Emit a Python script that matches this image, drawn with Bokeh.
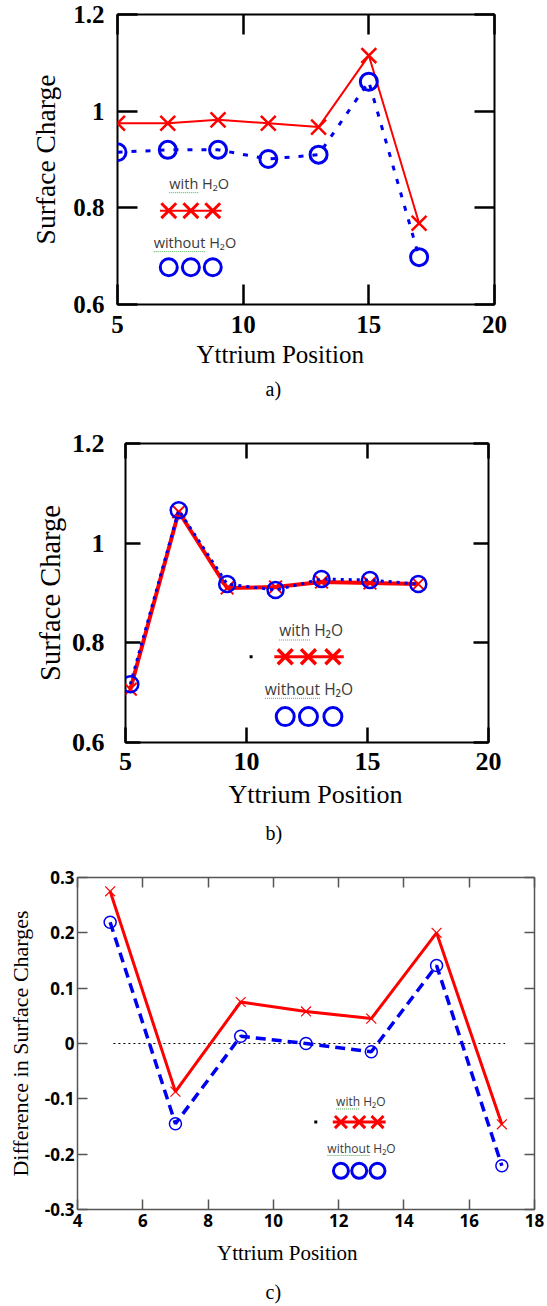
from bokeh.plotting import figure
from bokeh.models import Range1d, FixedTicker, LinearAxis, Title
from bokeh.embed import file_html
from bokeh.resources import INLINE
from bokeh.core.properties import value

# ---------------- data ----------------
# panel a)
positions_a = [5, 7, 9, 11, 13, 15, 17]
with_h2o_a = [0.975, 0.975, 0.982, 0.975, 0.967, 1.115, 0.768]
without_h2o_a = [0.915, 0.920, 0.920, 0.901, 0.910, 1.061, 0.698]

# panel b)
positions_b = [5.2, 7.2, 9.2, 11.2, 13.1, 15.1, 17.1]
with_h2o_b = [0.707, 1.063, 0.910, 0.912, 0.922, 0.920, 0.918]
without_h2o_b = [0.717, 1.066, 0.918, 0.906, 0.928, 0.926, 0.918]

# panel c)
positions_c = [5, 7, 9, 11, 13, 15, 17]
diff_with_h2o = [0.275, -0.087, 0.075, 0.058, 0.045, 0.200, -0.146]
diff_without_h2o = [0.219, -0.145, 0.013, 0.000, -0.015, 0.141, -0.221]
zero_line_x = [5.1, 17.1]
zero_line_y = [0.0, 0.0]

# ticks
x_ticks_ab = [5, 10, 15, 20]
x_tick_labels_ab = ["5", "10", "15", "20"]
y_ticks_ab = [0.6, 0.8, 1.0, 1.2]
y_tick_labels_ab = ["0.6", "0.8", "1", "1.2"]
x_ticks_c = [4, 6, 8, 10, 12, 14, 16, 18]
x_tick_labels_c = ["4", "6", "8", "10", "12", "14", "16", "18"]
y_ticks_c = [-0.3, -0.2, -0.1, 0.0, 0.1, 0.2, 0.3]
y_tick_labels_c = ["-0.3", "-0.2", "-0.1", "0", "0.1", "0.2", "0.3"]

legend_with = "with H\u2082O"
legend_without = "without H\u2082O"
x_title = "Yttrium Position"
y_title_ab = "Surface Charge"
y_title_c = "Difference in Surface Charges"
captions = ["a)", "b)", "c)"]

RED = "#ff0000"
BLUE = "#0000f0"
SERIF = "Liberation Serif"
TITLE_SERIF = "Times New Roman"
SANS = "Open Sans"
W = 547


def make_fig(h, xr, yr, borders, xt, xl, yt, yl, tick_font, tick_size, tick_len,
             frame_color, frame_w, tick_w, ytitle, ytitle_size, xlab_standoff,
             ylab_standoff, ytitle_standoff):
    p = figure(width=W, height=h, x_range=Range1d(*xr), y_range=Range1d(*yr),
               output_backend="svg", toolbar_location=None,
               min_border_left=borders[0], min_border_right=borders[1],
               min_border_top=borders[2], min_border_bottom=borders[3],
               x_axis_type=None, y_axis_type=None)
    p.grid.visible = False
    p.outline_line_color = frame_color
    p.outline_line_width = frame_w
    p.outline_line_alpha = 1
    p.background_fill_color = "white"
    p.border_fill_color = "white"

    def axis(ticks, labels, show, standoff=0, title=None):
        a = LinearAxis(ticker=FixedTicker(ticks=ticks),
                       axis_line_color=None,
                       major_tick_in=tick_len, major_tick_out=0,
                       major_tick_line_color=frame_color, major_tick_line_width=tick_w,
                       minor_tick_line_color=None)
        if show:
            a.major_label_overrides = dict(zip(ticks, labels))
            a.major_label_text_font = tick_font[0]
            a.major_label_text_font_style = tick_font[1]
            a.major_label_text_font_size = tick_size
            a.major_label_text_color = "black"
            a.major_label_standoff = standoff
            if title:
                a.axis_label = title
                a.axis_label_text_font = SERIF
                a.axis_label_text_font_style = "normal"
                a.axis_label_text_font_size = ytitle_size
                a.axis_label_text_color = "black"
                a.axis_label_standoff = ytitle_standoff
        else:
            a.major_label_overrides = {t: "" for t in ticks}
            a.major_label_standoff = 0
        return a

    p.add_layout(axis(xt, xl, True, xlab_standoff), "below")
    p.add_layout(axis(yt, yl, True, ylab_standoff, ytitle), "left")
    p.add_layout(axis(xt, xl, False), "above")
    p.add_layout(axis(yt, yl, False), "right")
    return p


def below_text(p, txt, offset, standoff, size):
    t = Title(text=txt, align="left", offset=offset, standoff=standoff,
              vertical_align="top", text_font_size=size,
              text_font_style="normal", text_color="black")
    t.text_font = TITLE_SERIF
    p.add_layout(t, "below")


def add_legend(p, cfg, fpx, xsize, xlw, osize, olw, line_w, px_x, px_y, dot=None):
    # px_x / px_y: data units per screen pixel (for the spell-check underline)
    for txt, tx, ty, word_em in ((legend_with, cfg["tx1"], cfg["ty1"], 2.0),
                                 (legend_without, cfg["tx2"], cfg["ty2"], 3.55)):
        p.text(x=[tx], y=[ty], text=[txt], text_font=value(SANS),
               text_font_size=f"{fpx}px", text_color="#3a3a3a", text_align="center",
               text_baseline="middle")
        total_em = word_em + 2.13
        x0 = tx - total_em * fpx / 2 * px_x
        p.line(x=[x0, x0 + word_em * fpx * px_x], y=[ty - 0.62 * fpx * px_y] * 2,
               line_color="#4caf50", line_width=1, line_dash="1 1")
    mx = cfg["mx"]
    p.line(x=[mx[0] - cfg["ext"], mx[2] + cfg["ext"]], y=[cfg["my1"]] * 2,
           line_color=RED, line_width=line_w)
    p.scatter(x=mx, y=[cfg["my1"]] * 3, marker="x", size=xsize,
              line_color=RED, line_width=xlw)
    p.scatter(x=mx, y=[cfg["my2"]] * 3, marker="circle", size=osize,
              line_color=BLUE, line_width=olw, fill_color=None)
    if dot is not None:
        p.scatter(x=[dot], y=[cfg["my1"]], marker="square", size=3,
                  fill_color="black", line_color=None)


# ---------------- panel a ----------------
pa = make_fig(410, (5, 20), (0.6, 1.2), (117, 53, 14, 106),
              x_ticks_ab, x_tick_labels_ab, y_ticks_ab, y_tick_labels_ab,
              (SERIF, "bold"), "25px", 20, "black", 2, 2.5, y_title_ab, "27.5px",
              11, 13, 9)
pa.line(positions_a, with_h2o_a, line_color=RED, line_width=2)
pa.scatter(positions_a, with_h2o_a, marker="x", size=21, line_color=RED, line_width=2.5)
pa.line(positions_a, without_h2o_a, line_color=BLUE, line_width=3, line_dash="5 9")
pa.scatter(positions_a, without_h2o_a, marker="circle", size=17, line_color=BLUE,
           line_width=3, fill_color=None)
add_legend(pa, dict(tx1=8.25, ty1=0.850, tx2=8.08, ty2=0.728,
                    mx=[7.04, 7.92, 8.79], my1=0.794, my2=0.677, ext=0.35),
           14.5, 21, 3, 17, 3, 2, 15 / 377, 0.6 / 290)
below_text(pa, x_title, 79, 11.5, "25px")
below_text(pa, captions[0], 148, 3, "20px")

# ---------------- panel b ----------------
pb = make_fig(440, (5, 20), (0.6, 1.2), (125, 59, 33, 108),
              x_ticks_ab, x_tick_labels_ab, y_ticks_ab, y_tick_labels_ab,
              (SERIF, "bold"), "26px", 15, "black", 2, 2.5, y_title_ab, "28.5px",
              10, 21, 3)
pb.line(positions_b, with_h2o_b, line_color=RED, line_width=4)
pb.scatter(positions_b, with_h2o_b, marker="x", size=18, line_color=RED, line_width=2)
pb.line(positions_b, without_h2o_b, line_color=BLUE, line_width=3, line_dash="3 5")
pb.scatter(positions_b, without_h2o_b, marker="circle", size=16, line_color=BLUE,
           line_width=2.5, fill_color=None)
add_legend(pb, dict(tx1=12.67, ty1=0.825, tx2=12.58, ty2=0.708,
                    mx=[11.6, 12.56, 13.57], my1=0.772, my2=0.652, ext=0.45),
           15.5, 21, 3.5, 18, 3, 3, 15 / 363, 0.6 / 299, dot=10.19)
below_text(pb, x_title, 103, 14, "26px")
below_text(pb, captions[1], 140, 8.5, "20px")

# ---------------- panel c ----------------
pc = make_fig(456, (4, 18), (-0.3, 0.3), (77, 13, 27, 94),
              x_ticks_c, x_tick_labels_c, y_ticks_c, y_tick_labels_c,
              (SANS, "bold"), "17px", 10, "#555555", 1.5, 1.5, y_title_c, "22px",
              4, 3, 9)
pc.line(zero_line_x, zero_line_y, line_color="black", line_width=1.2, line_dash="2 3")
pc.line(positions_c, diff_without_h2o, line_color=BLUE, line_width=3.5, line_dash="10 6")
pc.scatter(positions_c, diff_without_h2o, marker="circle", size=12, line_color=BLUE,
           line_width=1.5, fill_color=None)
pc.line(positions_c, diff_with_h2o, line_color=RED, line_width=3)
pc.scatter(positions_c, diff_with_h2o, marker="x", size=14, line_color=RED, line_width=1.2)
add_legend(pc, dict(tx1=12.68, ty1=-0.105, tx2=12.7, ty2=-0.189,
                    mx=[12.07, 12.63, 13.19], my1=-0.142, my2=-0.230, ext=0.25),
           12, 17, 3, 15, 3, 3, 14 / 457, 0.6 / 335, dot=11.3)
below_text(pc, x_title, 139.5, 23, "21px")
below_text(pc, captions[2], 188, 4, "20px")

open("out.html", "w").write(file_html([pa, pb, pc], INLINE))
